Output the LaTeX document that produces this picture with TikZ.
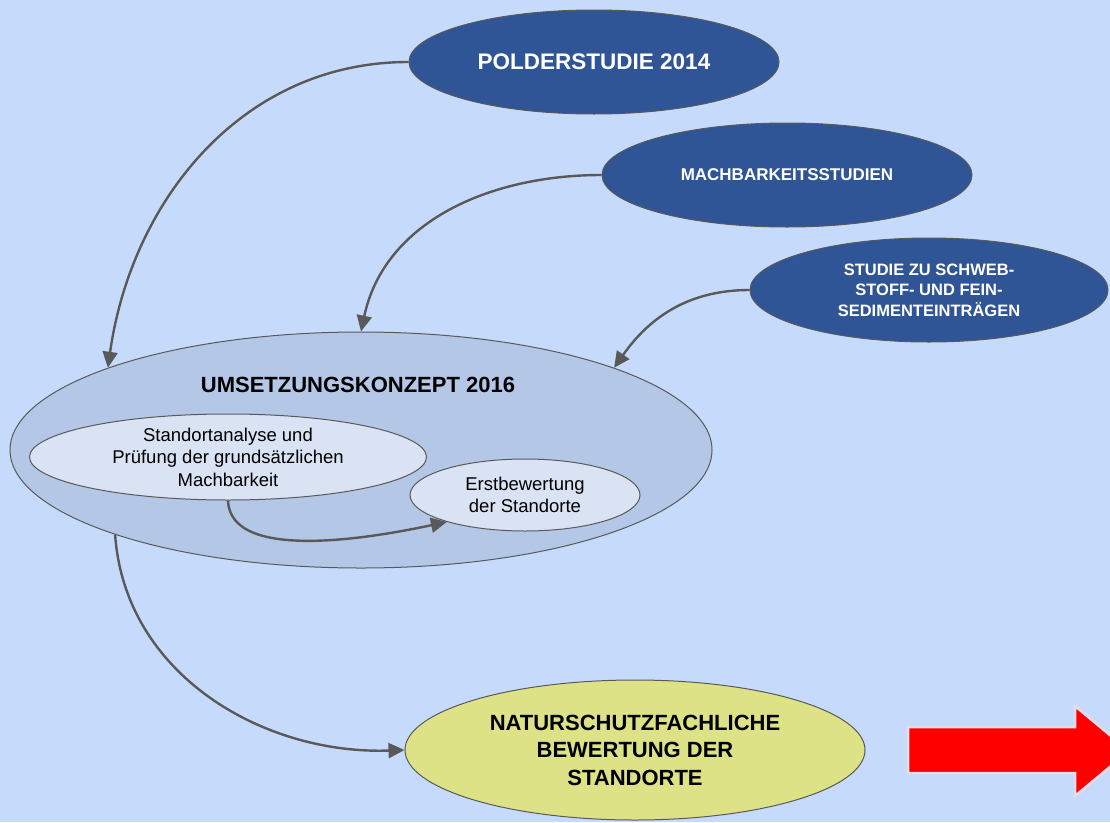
\documentclass[tikz,border=0pt]{standalone}
\usepackage{fontspec}
\setmainfont{Liberation Sans}
\definecolor{bg}{HTML}{C6DBFB}
\definecolor{dkblue}{HTML}{2F5597}
\definecolor{umset}{HTML}{B4C7E7}
\definecolor{inner}{HTML}{DAE3F3}
\definecolor{natur}{HTML}{DDE286}
\definecolor{conn}{HTML}{595959}
\definecolor{glow}{HTML}{E8DCEC}
\usetikzlibrary{
  shapes.geometric, % ellipse nodes
  arrows.meta,      % triangle arrow tips
  positioning       % relative placement
}
\tikzset{
    every node/.style = {
        ellipse,
        draw=conn,
        line width=1pt,
        inner sep=0pt,
        align=center
    },
    study/.append style = {fill=dkblue, text=white, minimum width=370pt, minimum height=104pt},
    concept/.append style = {fill=umset, minimum width=702pt, minimum height=236pt},
    substep/.append style = {fill=inner, font=\fontsize{18.5}{22.5}\selectfont},
    result/.append style = {fill=natur, minimum width=460pt, minimum height=140pt,
        font=\fontsize{22}{27.5}\selectfont\bfseries},
    title/.append style = {draw=none, rectangle, font=\fontsize{22}{26}\selectfont\bfseries},
    flow/.append style = {draw=conn, line width=2.4pt, -{Triangle[length=16pt,width=15pt]}}
}

\begin{document}
\begin{tikzpicture}[x=1pt, y=-1pt]

  %% page
  \fill [bg] (0,0) rectangle (1110,822);
  \useasboundingbox (0,0) rectangle (1110,822);
  \clip (0,0) rectangle (1110,822);

  %% studies
  \node [study, font=\fontsize{22.5}{27}\selectfont\bfseries] (polder) at (594,62) {POLDERSTUDIE 2014};
  \node [study, font=\fontsize{17}{20}\selectfont\bfseries] (machbar) at (787,175) {MACHBARKEITSSTUDIEN};
  \node [study, minimum width=358pt, font=\fontsize{16.5}{20.5}\selectfont\bfseries] (schweb) at (929,290)
    {STUDIE ZU SCHWEB-\\STOFF- UND FEIN-\\SEDIMENTEINTRÄGEN};

  %% Umsetzungskonzept
  \node [concept] (umsetz) at (361,450) {};
  \node [title] (umsetzT) at (358,385) {UMSETZUNGSKONZEPT 2016};
  \node [substep, minimum width=397pt, minimum height=86pt] (standort) at (228,457)
    {Standortanalyse und\\Prüfung der grundsätzlichen\\Machbarkeit};
  \node [substep, minimum width=230pt, minimum height=72pt] (erst) at (525,495)
    {Erstbewertung\\der Standorte};

  \draw [flow] (standort.south) to [out=-88, in=192, looseness=0.75] (erst.199);

  %% Naturschutz
  \node [result] (natur) at (635,750) {NATURSCHUTZFACHLICHE\\BEWERTUNG DER\\STANDORTE};

  %% connectors
  \draw [flow] (polder.west) to [out=180, in=82] (umsetz.162);
  \draw [flow] (machbar.west) to [out=180, in=78] (umsetz.90);
  \draw [flow] (schweb.west) to [out=180, in=55] (umsetz.18);
  \draw [flow] (umsetz.199) to [out=-86, in=182] (natur.west);

  %% red arrow
  \draw [glow, line width=2.5pt, fill=red, line join=miter]
    (908,727) -- (1075,727) -- (1075,706) -- (1129,751) -- (1075,796) -- (1075,773) -- (908,773) -- cycle;

\end{tikzpicture}
\end{document}
